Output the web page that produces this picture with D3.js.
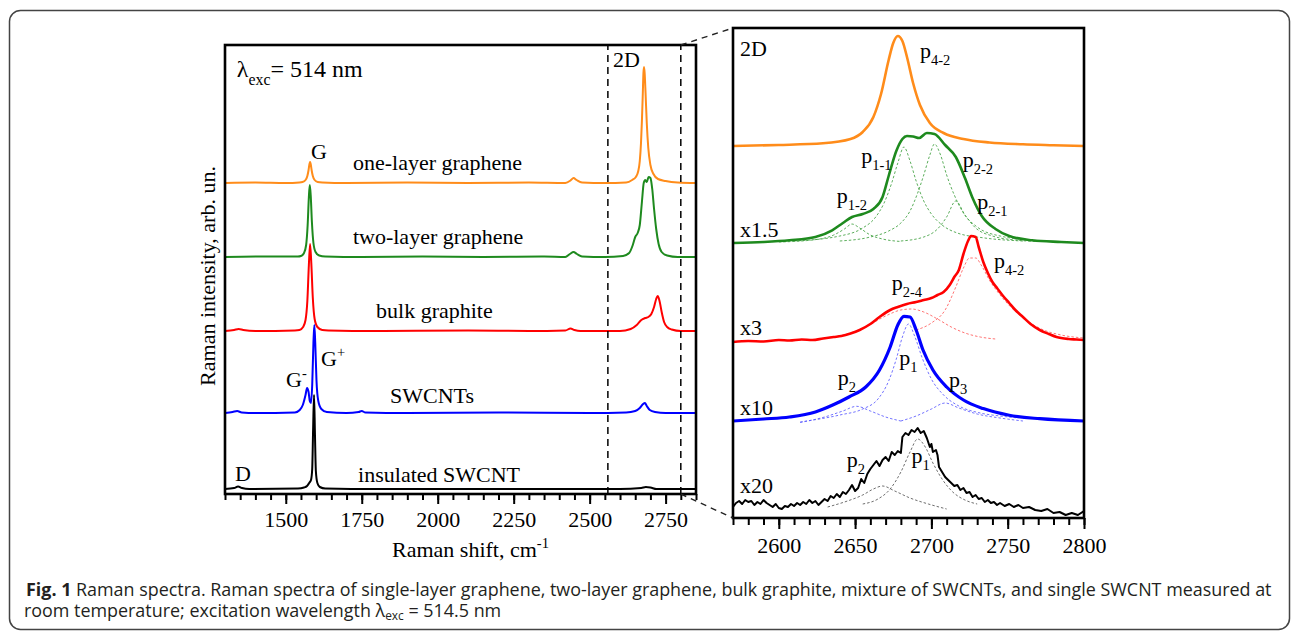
<!DOCTYPE html>
<html>
<head>
<meta charset="utf-8">
<script src="https://cdn.jsdelivr.net/npm/d3@7"></script>
<style>
  body { margin: 0; background: #fff; }
  svg { display: block; }
</style>
</head>
<body>
<svg id="fig" width="1296" height="632"></svg>
<script>
// ---- data ----
const leftDomain = [1300, 2850];
const leftTicks = [1500, 1750, 2000, 2250, 2500, 2750];
const zoomEdges = [2560, 2800];
const rightDomain = [2570, 2800];
const rightTicks = [2600, 2650, 2700, 2750, 2800];

// left panel: [Raman shift, intensity above the curve's own baseline]
const oneLayer = [[1300,0],[1400,0.5],[1500,0],[1545,0.5],[1555,1],[1565,3],[1571,7],[1575,13],[1578,19],[1580,21],[1582,19],[1585,13],[1589,7],[1595,3],[1605,1],[1620,0.5],[1700,0],[1900,0.5],[2100,0],[2300,0.5],[2420,0],[2437,2.5],[2447,5],[2457,3],[2475,0.5],[2550,0],[2620,0.5],[2640,3],[2652,6],[2660,12],[2665,22],[2669,40],[2672,62],[2675,90],[2677,110],[2679,116],[2681,110],[2684,90],[2688,60],[2693,35],[2700,18],[2710,9],[2725,4],[2750,2],[2790,0.5],[2850,0]];
const twoLayer = [[1300,0],[1450,0.5],[1540,0.5],[1550,1],[1560,4],[1567,12],[1572,32],[1576,60],[1579,72],[1582,62],[1586,35],[1591,14],[1598,5],[1610,1.5],[1630,0.5],[1750,0],[1950,0.5],[2150,0],[2350,0.5],[2420,0],[2435,3],[2447,5],[2458,3],[2475,0.5],[2550,0],[2610,1],[2630,4],[2642,12],[2650,20],[2658,24],[2665,32],[2672,55],[2678,74],[2683,77],[2688,75],[2694,80],[2700,79],[2706,68],[2712,48],[2719,28],[2727,13],[2737,5],[2755,1.5],[2790,0],[2850,0]];
const bulkGraphite = [[1300,0],[1330,1],[1345,2],[1360,1],[1400,0],[1530,0.5],[1545,1],[1557,4],[1565,11],[1571,30],[1576,66],[1580,87],[1584,68],[1589,33],[1595,12],[1604,4],[1620,1],[1640,0.5],[1800,0],[2100,0.5],[2300,0],[2420,0.5],[2437,2.5],[2450,1],[2470,0],[2600,0],[2635,2],[2655,6],[2670,11],[2683,13],[2693,14],[2703,17],[2712,24],[2719,32],[2724,35],[2730,30],[2737,19],[2745,9],[2755,4],[2770,1.5],[2800,0],[2850,0]];
const swcnts = [[1300,0],[1325,1],[1340,2],[1355,0.5],[1400,0],[1530,0.5],[1546,3],[1556,8],[1565,18],[1570,25],[1575,21],[1579,12],[1583,10],[1587,28],[1591,70],[1594,88],[1597,70],[1601,33],[1607,12],[1617,4],[1635,1],[1700,0],[1740,1],[1750,2],[1762,0.5],[1900,0],[2200,0.5],[2500,0],[2620,0.5],[2650,2],[2665,5],[2676,9],[2682,10],[2688,7],[2698,3],[2715,1],[2750,0],[2850,0]];
const singleSwcnt = [[1300,0],[1330,1],[1343,2.5],[1356,1],[1380,0],[1540,0.5],[1560,1.5],[1570,3],[1577,6],[1583,9],[1587,20],[1590,60],[1593,94],[1596,55],[1599,18],[1604,6],[1612,2],[1630,0.5],[1800,0],[2200,0],[2600,0],[2670,1],[2685,2],[2700,1.5],[2720,0],[2850,0]];
const leftSeries = [oneLayer, twoLayer, bulkGraphite, swcnts, singleSwcnt];
const leftOffsets = [311, 237, 163, 81, 5];

// right panel, 2D band: totals and fitted components
const orange2D = [[2570,0],[2600,1],[2629,2.7],[2647,7],[2655,14],[2662,29],[2667,52],[2672,86],[2675,103],[2678,110],[2681,105],[2684,89],[2688,63],[2692.5,41],[2699,23],[2708,13],[2721,7],[2738,3.5],[2760,1.7],[2780,0.8],[2800,0]];
const green2D = [[2570,0],[2590,1],[2607,2.7],[2624,6],[2635,12.7],[2642,20],[2648,26],[2655,29],[2662,34],[2668,46],[2672,67],[2677,92],[2681,104],[2684,107],[2688,106.5],[2692,105],[2697,110],[2702,109],[2709,98],[2716,86],[2722,65],[2727,45],[2733,27],[2742,14],[2751,7],[2766,2.7],[2785,1],[2800,0]];
const greenP12 = [[2600,1],[2622,3],[2636,8],[2643,14],[2648,19],[2653,15],[2660,8],[2668,4],[2680,1.5]];
const greenP11 = [[2610,2],[2640,7],[2655,15],[2663,25],[2669,40],[2674,60],[2678,80],[2682,96],[2686,82],[2690,62],[2695,42],[2700,29],[2707,18],[2717,10],[2735,5],[2760,2]];
const greenP22 = [[2640,2],[2660,6],[2672,12],[2680,20],[2686,32],[2691,50],[2695,68],[2699,88],[2702,99],[2706,88],[2710,68],[2715,48],[2721,30],[2730,16],[2745,7],[2770,2.5]];
const greenP21 = [[2680,2],[2695,6],[2704,14],[2710,26],[2716,42],[2722,28],[2729,15],[2740,7],[2755,3],[2770,1.5]];
const red2D = [[2570,0],[2580,1],[2590,0.5],[2600,2],[2607,1.5],[2615,2.5],[2622,2],[2629,3.5],[2636,5],[2641,6],[2647,8.5],[2653,12],[2660,18],[2666,25],[2673,32],[2678,35],[2684,38],[2690,40],[2695,42],[2700,44],[2704,47],[2708,50],[2712,57],[2715,65],[2718,72],[2721,88],[2724,101],[2726,106],[2729,105],[2731,95],[2734,80],[2737,69],[2740,60],[2743,54],[2747,46],[2751,39],[2755,32],[2760,25],[2765,18],[2771,12],[2777,8],[2782,5],[2790,3],[2795,2.5],[2800,2]];
const redP24 = [[2630,4],[2645,8],[2658,16],[2670,26],[2680,32],[2687,33],[2695,30],[2704,23],[2713,15],[2722,9],[2732,5],[2742,3]];
const redP42 = [[2690,12],[2700,19],[2709,32],[2716,55],[2721,74],[2725,84],[2729,84],[2733,76],[2738,62],[2744,49],[2752,35],[2762,22],[2772,13],[2785,7],[2800,4]];
const blue2D = [[2570,0],[2590,2],[2607,4],[2624,9],[2635,15.7],[2646,24],[2657,34],[2666,51],[2673,74],[2678,96],[2682,104.7],[2686,104],[2690,91],[2694.5,71],[2701,51],[2710,34],[2721,21],[2734,12.4],[2751,5.7],[2771,2.3],[2800,0]];
const blueP1 = [[2614,-1],[2640,6],[2655,12],[2665,22],[2672,40],[2677,62],[2681,84],[2685,97],[2689,85],[2694,63],[2700,42],[2708,26],[2718,15],[2732,8],[2745,5],[2757,3]];
const blueP2 = [[2614,-1.5],[2630,4],[2642,10],[2651,14.7],[2660,10],[2670,4],[2680,0]];
const blueP3 = [[2680,0],[2690,5],[2700,12],[2709,18],[2718,13],[2730,7],[2745,3],[2760,0]];
const black2D = [[2570,0],[2572,4],[2574,6],[2576,3],[2578,7],[2580,5],[2582,6],[2584,2],[2586,5],[2588,3],[2590,7],[2592,4],[2594,2],[2596,0],[2598,3],[2600,-1],[2602,-2],[2604,1],[2606,0],[2608,3],[2610,1],[2612,4],[2614,2],[2616,5],[2618,3],[2620,7],[2622,4],[2624,6],[2626,2],[2628,5],[2630,8],[2632,6],[2634,11],[2636,9],[2638,13],[2640,10],[2642,15],[2644,13],[2646,17],[2648,22],[2650,16],[2652,19],[2654,28],[2656,24],[2658,33],[2660,38],[2662,42],[2664,46],[2666,41],[2668,47],[2670,50],[2672,46],[2674,55],[2676,52],[2678,56],[2680,54],[2681,70],[2683,74],[2685,72],[2687,77],[2689,75],[2691,79],[2693,74],[2695,76],[2697,69],[2699,60],[2700,63],[2701,55],[2703,57],[2704,52],[2705,40],[2707,35],[2709,30],[2711,27],[2713,24],[2715,21],[2717,22],[2719,17],[2721,19],[2723,14],[2725,15],[2727,10],[2729,12],[2731,8],[2733,9],[2735,5],[2737,7],[2739,4],[2741,5],[2743,2],[2745,4],[2748,1],[2751,3],[2754,0],[2757,2],[2760,-1],[2764,0],[2768,-3],[2772,-4],[2776,-2],[2780,-6],[2784,-5],[2788,-8],[2792,-6],[2796,-8],[2800,-4]];
const blackP2 = [[2632,0],[2645,6],[2655,12],[2662,18],[2668,21],[2676,16],[2686,9],[2698,3],[2710,-2]];
const blackP1 = [[2655,3],[2665,8],[2673,18],[2680,35],[2686,55],[2691,68],[2696,60],[2701,44],[2707,28],[2714,15],[2722,7],[2730,3]];
const rightTotals = [orange2D, green2D, red2D, blue2D, black2D];
const rightComponents = [[], [greenP12, greenP11, greenP22, greenP21], [redP24, redP42], [blueP1, blueP2, blueP3], [blackP2, blackP1]];
const rightOffsets = [372, 275, 176, 97, 11];

// ---- styles ----
const colors = ['#ff8c1a', '#1e8a1e', '#ff0000', '#0000ff', '#000000'];
const fitColors = ['#ff8c1a', '#3fa03f', '#ff5a5a', '#5a5aff', '#555555'];
const rightWidths = [2.6, 2.6, 2.6, 3.2, 2];
const serif = '"Liberation Serif", "Times New Roman", Times, serif';

const svg = d3.select('#fig');
const fs = 22;

// outer rounded frame
svg.append('rect')
  .attr('x', 9.5).attr('y', 10.5).attr('width', 1280).attr('height', 619).attr('rx', 11)
  .attr('fill', 'none').attr('stroke', '#444').attr('stroke-width', 1.5);

// scales
const xL = d3.scaleLinear().domain(leftDomain).range([225, 696]);
const yL = d3.scaleLinear().domain([0, 449]).range([494, 45]);
const xR = d3.scaleLinear().domain(rightDomain).range([733, 1084]);
const yR = d3.scaleLinear().domain([0, 490]).range([518, 28]);

const defs = svg.append('defs');
defs.append('clipPath').attr('id', 'clipL').append('rect')
  .attr('x', 225).attr('y', 45).attr('width', 471).attr('height', 449);
defs.append('clipPath').attr('id', 'clipR').append('rect')
  .attr('x', 733).attr('y', 28).attr('width', 351).attr('height', 490);

// text with sub/superscripts: parts = [[text, kind], ...]
function rich(sel, parts, size) {
  let shift = 0;
  parts.forEach(([t, kind]) => {
    const want = kind === 'sub' ? size * 0.32 : kind === 'sup' ? -size * 0.42 : 0;
    sel.append('tspan')
      .attr('dy', want - shift)
      .style('font-size', (kind ? size * 0.66 : size) + 'px')
      .text(t);
    shift = want;
  });
  return sel;
}
function label(g, x, y, parts, size = fs) {
  const t = g.append('text')
    .style('font-family', serif).style('fill', '#000')
    .attr('x', x).attr('y', y);
  return rich(t, parts, size);
}

// ---- left panel ----
const gL = svg.append('g');
const plotL = gL.append('g').attr('clip-path', 'url(#clipL)');
const lineL = (off) => d3.line().x(d => xL(d[0])).y(d => yL(d[1] + off)).curve(d3.curveMonotoneX);

leftSeries.forEach((s, i) => {
  plotL.append('path').datum(s)
    .attr('fill', 'none').attr('stroke', colors[i]).attr('stroke-width', 2)
    .attr('stroke-linejoin', 'round')
    .attr('d', lineL(leftOffsets[i]));
});

zoomEdges.forEach(v => {
  gL.append('line')
    .attr('x1', xL(v)).attr('x2', xL(v)).attr('y1', yL(0)).attr('y2', yL(449))
    .attr('stroke', '#000').attr('stroke-width', 1.5).attr('stroke-dasharray', '7,5');
});

gL.append('rect').attr('x', 225).attr('y', 45).attr('width', 471).attr('height', 449)
  .attr('fill', 'none').attr('stroke', '#000').attr('stroke-width', 2.6);

const axLMinor = gL.append('g').attr('transform', 'translate(0,494)')
  .call(d3.axisBottom(xL).tickValues(d3.range(1300, 2851, 50)).tickSize(6).tickFormat(''));
const axLMajor = gL.append('g').attr('transform', 'translate(0,494)')
  .call(d3.axisBottom(xL).tickValues(leftTicks).tickSize(10).tickFormat(d3.format('d')));
[axLMinor, axLMajor].forEach(a => {
  a.attr('font-family', null);
  a.select('.domain').remove();
  a.selectAll('.tick line').attr('stroke', '#000').attr('stroke-width', 2);
});
axLMajor.selectAll('.tick text')
  .style('font-family', serif).style('font-size', fs + 'px').style('fill', '#000')
  .attr('y', 33).attr('dy', 0);

label(gL, xL(1300) + (696 - 225) / 2 + 10, 557, [['Raman shift, cm'], ['-1', 'sup']])
  .attr('text-anchor', 'middle');
svg.append('text')
  .style('font-family', serif).style('font-size', fs + 'px')
  .attr('text-anchor', 'middle')
  .attr('transform', 'translate(215,276) rotate(-90)')
  .text('Raman intensity, arb. un.');

label(gL, xL(1339), yL(417), [['λ'], ['exc', 'sub'], ['= 514 nm']], 24);
label(gL, xL(2577), yL(427), [['2D']]);
label(gL, xL(1583), yL(335), [['G']]);
label(gL, xL(1721), yL(324), [['one-layer graphene']]);
label(gL, xL(1721), yL(250), [['two-layer graphene']]);
label(gL, xL(1797), yL(176), [['bulk graphite']]);
label(gL, xL(1843), yL(91), [['SWCNTs']]);
label(gL, xL(1738), yL(12), [['insulated SWCNT']]);
label(gL, xL(1333), yL(13), [['D']]);
label(gL, xL(1501), yL(107), [['G'], ['-', 'sup']]);
label(gL, xL(1616), yL(128), [['G'], ['+', 'sup']]);

// ---- right panel ----
const gR = svg.append('g');
const plotR = gR.append('g').attr('clip-path', 'url(#clipR)');
const lineR = (off, curve) => d3.line().x(d => xR(d[0])).y(d => yR(d[1] + off)).curve(curve);

rightComponents.forEach((comps, i) => {
  comps.forEach(c => {
    plotR.append('path').datum(c)
      .attr('fill', 'none').attr('stroke', fitColors[i]).attr('stroke-width', 1)
      .attr('stroke-dasharray', '2.5,2').attr('opacity', 0.85)
      .attr('d', lineR(rightOffsets[i], d3.curveMonotoneX));
  });
});
rightTotals.forEach((s, i) => {
  plotR.append('path').datum(s)
    .attr('fill', 'none').attr('stroke', colors[i]).attr('stroke-width', rightWidths[i])
    .attr('stroke-linejoin', 'round')
    .attr('d', lineR(rightOffsets[i], i === 4 ? d3.curveLinear : d3.curveMonotoneX));
});

gR.append('rect').attr('x', 733).attr('y', 28).attr('width', 351).attr('height', 490)
  .attr('fill', 'none').attr('stroke', '#000').attr('stroke-width', 2.6);

const axRMinor = gR.append('g').attr('transform', 'translate(0,518)')
  .call(d3.axisBottom(xR).tickValues(d3.range(2570, 2801, 10)).tickSize(7).tickFormat(''));
const axRMajor = gR.append('g').attr('transform', 'translate(0,518)')
  .call(d3.axisBottom(xR).tickValues(rightTicks).tickSize(11).tickFormat(d3.format('d')));
[axRMinor, axRMajor].forEach(a => {
  a.attr('font-family', null);
  a.select('.domain').remove();
  a.selectAll('.tick line').attr('stroke', '#000').attr('stroke-width', 2);
});
axRMajor.selectAll('.tick text')
  .style('font-family', serif).style('font-size', fs + 'px').style('fill', '#000')
  .attr('y', 35).attr('dy', 0);

label(gR, xR(2574.6), yR(462), [['2D']]);
label(gR, xR(2692.5), yR(460.5), [['p'], ['4-2', 'sub']]);
label(gR, xR(2654), yR(355), [['p'], ['1-1', 'sub']]);
label(gR, xR(2720.5), yR(351), [['p'], ['2-2', 'sub']]);
label(gR, xR(2638), yR(315), [['p'], ['1-2', 'sub']]);
label(gR, xR(2730), yR(309), [['p'], ['2-1', 'sub']]);
label(gR, xR(2574.6), yR(281), [['x1.5']]);
label(gR, xR(2741), yR(250), [['p'], ['4-2', 'sub']]);
label(gR, xR(2674), yR(228), [['p'], ['2-4', 'sub']]);
label(gR, xR(2574.6), yR(183), [['x3']]);
label(gR, xR(2679), yR(153), [['p'], ['1', 'sub']]);
label(gR, xR(2638.6), yR(133), [['p'], ['2', 'sub']]);
label(gR, xR(2711.5), yR(131), [['p'], ['3', 'sub']]);
label(gR, xR(2574.6), yR(103), [['x10']]);
label(gR, xR(2644.5), yR(51), [['p'], ['2', 'sub']]);
label(gR, xR(2687), yR(55), [['p'], ['1', 'sub']]);
label(gR, xR(2574.6), yR(25), [['x20']]);

// zoom connectors
[[yL(449), yR(490)], [yL(0), yR(0)]].forEach(([ya, yb]) => {
  svg.append('line')
    .attr('x1', xL(zoomEdges[1])).attr('y1', ya).attr('x2', xR(rightDomain[0])).attr('y2', yb)
    .attr('stroke', '#222').attr('stroke-width', 1.4).attr('stroke-dasharray', '6,5');
});

// ---- caption ----
const capFont = '"Open Sans", "Noto Sans", sans-serif';
const cap1 = svg.append('text').style('font-family', capFont).style('font-size', '18px').style('fill', '#231f20');
cap1.append('tspan').style('font-weight', 'bold').text('Fig. 1');
cap1.append('tspan').text(' Raman spectra. Raman spectra of single-layer graphene, two-layer graphene, bulk graphite, mixture of SWCNTs, and single SWCNT measured at');
const cap2 = svg.append('text').style('font-family', capFont).style('font-size', '18px').style('fill', '#231f20');
cap2.append('tspan').text('room temperature; excitation wavelength λ');
cap2.append('tspan').style('font-size', '12px').attr('dy', 3).text('exc');
cap2.append('tspan').attr('dy', -3).text(' = 514.5 nm');
const sx = 1247 / cap1.node().getComputedTextLength();
cap1.attr('transform', `translate(26,595.5) scale(${sx},1)`);
cap2.attr('transform', `translate(24,617) scale(${sx},1)`);
</script>
</body>
</html>
